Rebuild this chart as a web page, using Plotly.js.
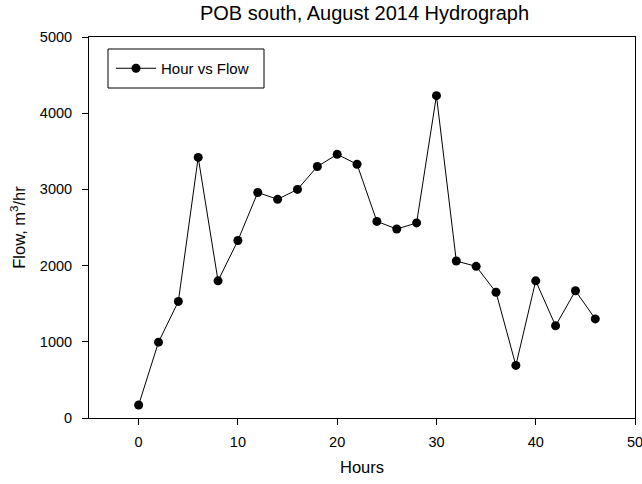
<!DOCTYPE html>
<html>
<head>
<script src="https://cdn.plot.ly/plotly-3.0.1.min.js"></script>
<style>body{margin:0;padding:0;background:#fff;}#chart{width:642px;height:484px;}</style>
</head>
<body>
<div id="chart"></div>
<script>
var hours = [0, 2, 4, 6, 8, 10, 12, 14, 16, 18, 20, 22, 24, 26, 28, 30, 32, 34, 36, 38, 40, 42, 44, 46];
var flow = [170, 995, 1530, 3420, 1800, 2330, 2960, 2870, 3000, 3300, 3460, 3330, 2580, 2480, 2560, 4230, 2060, 1990, 1650, 690, 1800, 1210, 1670, 1300];
var seriesName = "Hour vs Flow";
var xTicks = [0, 10, 20, 30, 40, 50];
var yTicks = [0, 1000, 2000, 3000, 4000, 5000];

var font = "Liberation Sans, Arial, sans-serif";
var trace = {
  x: hours, y: flow, name: seriesName, type: "scatter", mode: "lines+markers",
  line: {color: "#000", width: 1},
  marker: {color: "#000", size: 9, symbol: "circle"},
  showlegend: true
};
var layout = {
  width: 642, height: 484,
  margin: {l: 89, r: 7, t: 37, b: 66},
  paper_bgcolor: "#fff", plot_bgcolor: "#fff",
  font: {family: font, size: 14, color: "#000"},
  title: {text: "POB south, August 2014 Hydrograph", font: {family: font, size: 20, color: "#000"}, x: 0.5678, xanchor: "center", y: 1 - 13 / 484, yanchor: "middle"},
  xaxis: {
    range: [-5, 50], tickvals: xTicks, ticktext: xTicks.map(String),
    showgrid: false, zeroline: false, showline: true, linecolor: "#000", linewidth: 1, mirror: true,
    ticks: "outside", ticklen: 6, tickcolor: "#000", tickfont: {size: 14.5}, ticklabelstandoff: 5,
    ticklabeloverflow: "allow",
    title: {text: "Hours", font: {size: 16.5}, standoff: 12}
  },
  yaxis: {
    range: [0, 5000], tickvals: yTicks, ticktext: yTicks.map(String),
    showgrid: false, zeroline: false, showline: true, linecolor: "#000", linewidth: 1, mirror: true,
    ticks: "outside", ticklen: 6, tickcolor: "#000", tickfont: {size: 14.5}, ticklabelstandoff: 7,
    title: {text: "Flow, m<sup>3</sup>/hr", font: {size: 16.5}, standoff: 10}
  },
  showlegend: true,
  legend: {x: (111 - 89) / 546, y: (418 - 68.5) / 381, xanchor: "left", yanchor: "middle", borderwidth: 0, bgcolor: "rgba(0,0,0,0)", font: {size: 15}, itemwidth: 40},
  shapes: [{type: "rect", xref: "paper", yref: "paper", x0: (108 - 89) / 546, x1: (264 - 89) / 546, y0: (418 - 88) / 381, y1: (418 - 49) / 381, line: {color: "#000", width: 1}, fillcolor: "rgba(0,0,0,0)", layer: "above"}]
};
Plotly.newPlot("chart", [trace], layout, {displayModeBar: false, staticPlot: true});
</script>
</body>
</html>
